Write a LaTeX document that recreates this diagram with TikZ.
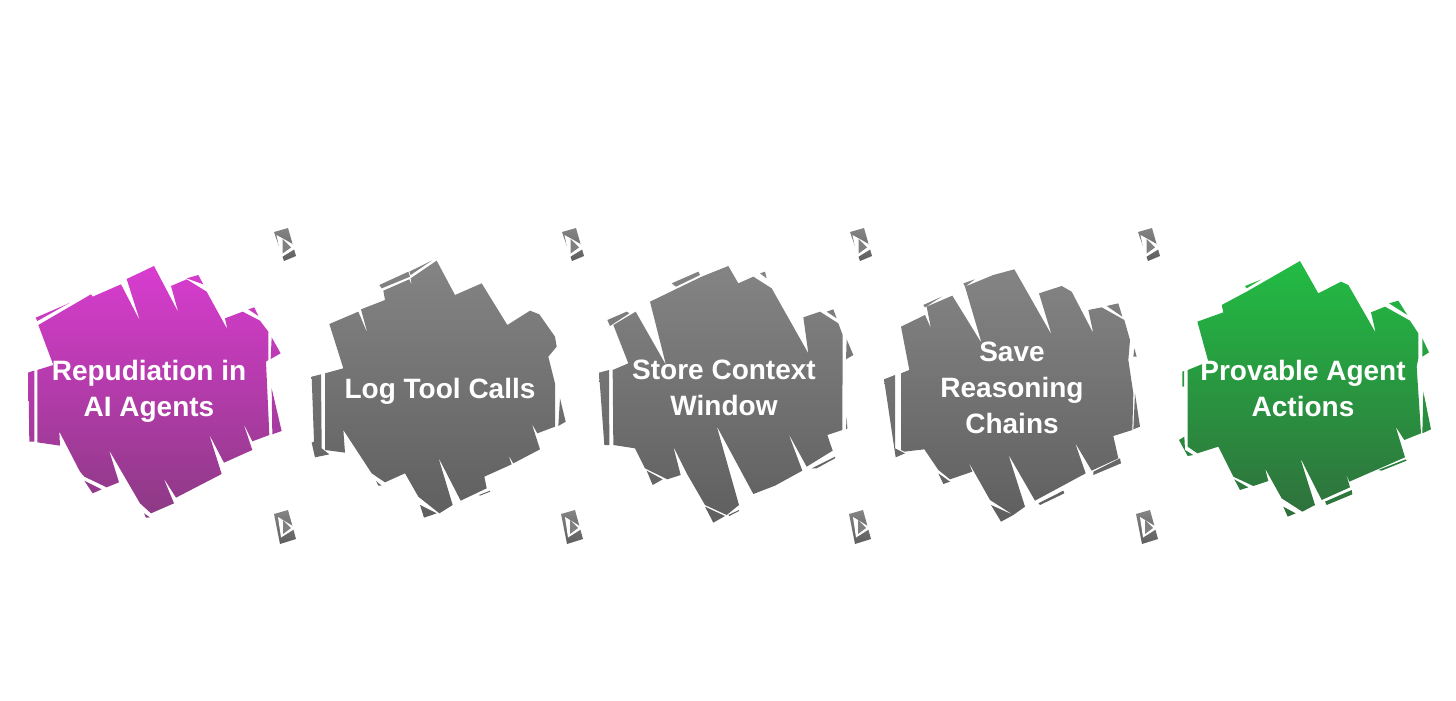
\documentclass[tikz,border=0pt]{standalone}
\usepackage{fontspec}
\setmainfont{Liberation Sans}
\definecolor{purpletop}{HTML}{D83CCF}
\definecolor{purplebot}{HTML}{8C3A84}
\definecolor{graytop}{HTML}{848484}
\definecolor{graybot}{HTML}{5F5F5F}
\definecolor{greentop}{HTML}{22BC44}
\definecolor{greenbot}{HTML}{2F703C}
\begin{document}
\begin{tikzpicture}[x=.5pt,y=-.5pt]
        \tikzset{
            purpleblob/.style={top color=purpletop,bottom color=purplebot},
            grayblob/.style={top color=graytop,bottom color=graybot},
            greenblob/.style={top color=greentop,bottom color=greenbot},
            label/.style={
                    text=white,
                    font=\fontsize{14}{18}\selectfont\bfseries,
                    align=center,
                }
        }
        \useasboundingbox (0,0) rectangle (1456,701);

        \begin{scope}[shift={(20,250)},scale=1/3]
            \shade[purpleblob]
            (55,225) -- (213,133) -- (218,140) -- (303,103) -- (360,213) -- (320,87) -- (402,48) -- (475,187) -- (453,108) -- (500,88) -- (560,125) -- (622,238) -- (615,205) -- (668,185) -- (720,212) -- (745,245) -- (745,330) -- (738,335) -- (748,555) -- (697,574) -- (670,520) -- (697,600) -- (612,638) -- (567,552) -- (605,672) -- (468,743) -- (430,683) -- (462,760) -- (393,790) -- (360,760) -- (267,600) -- (297,697) -- (260,712) -- (193,680) -- (180,665) -- (118,545) -- (120,587) -- (52,577) -- (52,360) -- (100,345) -- cycle
            (47,203) -- (135,165) -- (150,158) -- (52,213) -- cycle
            (25,367) -- (43,362) -- (43,575) -- (28,575) -- cycle
            (193,692) -- (245,718) -- (218,730) -- cycle
            (372,790) -- (390,802) -- (378,803) -- cycle
            (500,85) -- (535,75) -- (550,103) -- cycle
            (685,178) -- (703,172) -- (715,198) -- cycle
            (755,262) -- (782,310) -- (752,327) -- cycle
            (755,415) -- (785,543) -- (757,553) -- cycle;
        \end{scope}

        \begin{scope}[shift={(300,220)},scale=1/3]
            \shade[grayblob]
            (88,312) -- (175,275) -- (203,342) -- (183,268) -- (255,240) -- (250,212) -- (328,178) -- (335,195) -- (332,175) -- (410,122) -- (465,225) -- (545,190) -- (622,315) -- (690,272) -- (718,283) -- (765,350) -- (770,380) -- (745,410) -- (765,490) -- (765,620) -- (712,640) -- (695,610) -- (720,688) -- (640,730) -- (625,705) -- (635,733) -- (553,770) -- (560,805) -- (482,842) -- (415,712) -- (458,855) -- (418,880) -- (355,830) -- (315,760) -- (255,787) -- (215,760) -- (130,630) -- (135,698) -- (75,690) -- (75,460) -- (130,445) -- cycle
            (238,195) -- (325,155) -- (330,170) -- (245,205) -- cycle
            (328,155) -- (395,122) -- (332,165) -- cycle
            (35,470) -- (63,463) -- (65,685) -- (88,703) -- (45,712) -- (35,668) -- (42,665) -- cycle
            (360,855) -- (410,880) -- (372,893) -- cycle
            (228,783) -- (245,797) -- (235,797) -- cycle
            (537,825) -- (570,812) -- (570,815) -- (540,827) -- cycle
            (780,535) -- (797,605) -- (775,618) -- cycle;
        \end{scope}

        \begin{scope}[shift={(590,220)},scale=1/3]
            \shade[grayblob]
            (70,315) -- (137,275) -- (228,435) -- (180,245) -- (335,170) -- (415,138) -- (445,190) -- (490,170) -- (545,205) -- (655,400) -- (640,292) -- (690,275) -- (745,310) -- (758,345) -- (757,630) -- (712,645) -- (728,692) -- (650,740) -- (595,640) -- (637,752) -- (555,797) -- (490,822) -- (380,618) -- (447,855) -- (410,885) -- (345,855) -- (290,760) -- (250,680) -- (272,765) -- (232,778) -- (165,745) -- (135,685) -- (70,675) -- (68,450) -- (115,430) -- cycle
            (27,458) -- (57,450) -- (58,675) -- (43,675) -- cycle
            (52,300) -- (110,275) -- (118,280) -- (60,318) -- cycle
            (245,190) -- (325,155) -- (330,165) -- (258,200) -- cycle
            (510,160) -- (525,155) -- (530,175) -- cycle
            (710,275) -- (730,268) -- (740,295) -- cycle
            (170,752) -- (218,778) -- (188,795) -- cycle
            (345,860) -- (405,888) -- (370,908) -- cycle
            (665,745) -- (735,710) -- (735,715) -- (680,745) -- cycle
            (415,885) -- (447,870) -- (447,873) -- (418,888) -- cycle
            (770,358) -- (790,405) -- (768,418) -- cycle
            (770,590) -- (772,625) -- (768,628) -- cycle;
        \end{scope}

        \begin{scope}[shift={(875,220)},scale=1/3]
            \shade[grayblob]
            (78,320) -- (150,285) -- (168,325) -- (155,260) -- (232,227) -- (320,370) -- (270,200) -- (355,165) -- (418,148) -- (530,345) -- (492,220) -- (560,198) -- (590,215) -- (655,340) -- (640,270) -- (680,262) -- (748,300) -- (765,360) -- (760,420) -- (775,520) -- (772,630) -- (715,648) -- (730,715) -- (650,752) -- (600,668) -- (632,760) -- (480,842) -- (400,703) -- (450,860) -- (415,885) -- (345,840) -- (280,725) -- (292,755) -- (225,778) -- (190,750) -- (148,688) -- (88,695) -- (78,690) -- (78,460) -- (103,450) -- cycle
            (27,478) -- (60,465) -- (60,685) -- (90,700) -- (62,712) -- cycle
            (145,255) -- (200,230) -- (150,262) -- cycle
            (265,190) -- (300,178) -- (270,200) -- cycle
            (695,258) -- (730,250) -- (742,290) -- cycle
            (778,385) -- (785,410) -- (775,410) -- cycle
            (780,520) -- (795,620) -- (775,628) -- cycle
            (655,755) -- (735,715) -- (738,730) -- (655,765) -- cycle
            (348,855) -- (415,885) -- (378,905) -- cycle
            (490,850) -- (565,812) -- (568,820) -- (495,855) -- cycle
            (190,760) -- (225,785) -- (205,792) -- cycle;
        \end{scope}

        \begin{scope}[shift={(1165,250)},scale=1/3]
            \shade[greenblob]
            (97,215) -- (175,187) -- (170,165) -- (245,125) -- (405,33) -- (460,130) -- (528,95) -- (550,105) -- (632,248) -- (618,187) -- (660,170) -- (735,212) -- (760,250) -- (760,325) -- (755,350) -- (768,550) -- (718,570) -- (692,530) -- (720,622) -- (553,695) -- (542,668) -- (555,712) -- (470,750) -- (405,622) -- (450,765) -- (412,785) -- (350,745) -- (300,655) -- (310,693) -- (265,708) -- (205,680) -- (160,590) -- (97,610) -- (68,590) -- (68,360) -- (130,335) -- cycle
            (240,108) -- (290,88) -- (245,115) -- cycle
            (52,365) -- (57,363) -- (57,410) -- (52,410) -- cycle
            (42,570) -- (58,560) -- (60,600) -- (85,615) -- (68,618) -- cycle
            (672,160) -- (700,152) -- (727,195) -- cycle
            (772,265) -- (792,307) -- (772,320) -- cycle
            (775,425) -- (798,538) -- (772,550) -- cycle
            (208,688) -- (250,712) -- (225,720) -- cycle
            (355,770) -- (392,790) -- (368,800) -- cycle
            (480,755) -- (560,720) -- (562,733) -- (485,765) -- cycle
            (640,660) -- (722,628) -- (725,632) -- (650,662) -- cycle;
        \end{scope}

        \foreach \ix in {285,573,861,1149} {
            \begin{scope}[shift={(\ix,245)}]
                \shade[grayblob] (-11,-13) -- (3,-17) -- (11,11) -- (-1,16) -- cycle;
                \fill[white] (-8.5,-10) -- (13,2) -- (-4,12.5) -- cycle;
                \fill[gray] (-2.5,-6) -- (6,2.5) -- (-2.5,8.5) -- cycle;
            \end{scope}
        }
        \foreach \ix in {285,572,860,1147} {
            \begin{scope}[shift={(\ix,527)}]
                \shade[grayblob] (-11,-13) -- (3,-17) -- (11,12) -- (-5,17) -- cycle;
                \fill[white] (-7,-10) -- (11,1) -- (-4,10.5) -- cycle;
                \fill[gray] (-2,-7) -- (6,1) -- (-2,7) -- cycle;
            \end{scope}
        }

        \node[label] (repudiation) at (149,391) {Repudiation in\\AI Agents};
        \node[label] (logtool) at (440,391) {Log Tool Calls};
        \node[label] (context) at (724,388) {Store Context\\Window};
        \node[label] (reasoning) at (1012,388) {Save\\Reasoning\\Chains};
        \node[label] (provable) at (1303,388) {Provable Agent\\Actions};
    \end{tikzpicture}
\end{document}
